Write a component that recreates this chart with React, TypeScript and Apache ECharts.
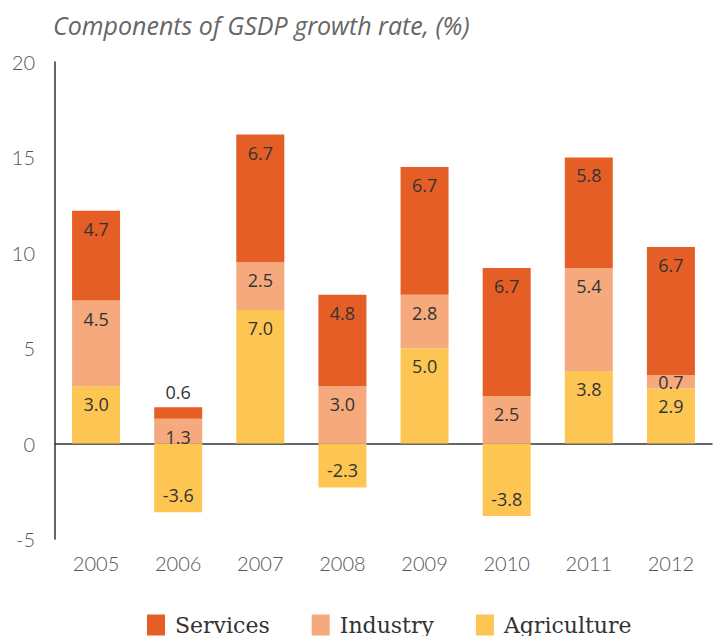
import React, { useEffect, useRef } from "react";
import * as echarts from "echarts";

const years = ["2005", "2006", "2007", "2008", "2009", "2010", "2011", "2012"];
const agriculture = [3.0, -3.6, 7.0, -2.3, 5.0, -3.8, 3.8, 2.9];
const industry = [4.5, 1.3, 2.5, 3.0, 2.8, 2.5, 5.4, 0.7];
const services = [4.7, 0.6, 6.7, 4.8, 6.7, 6.7, 5.8, 6.7];
const yTicks = { min: -5, max: 20, interval: 5 };
const title = "Components of GSDP growth rate, (%)";

const COLORS = { services: "#E55E26", industry: "#F5A97D", agriculture: "#FDC653" };

function items(values: number[], isTop: boolean) {
  return values.map((v) => {
    let label: any;
    if (v < 0) label = { position: "insideBottom", distance: 8 };
    else if (Math.abs(v) < 1 && isTop) label = { position: "top", distance: 6 };
    else if (Math.abs(v) < 1) label = { position: "inside" };
    else label = { position: "insideTop", distance: 9 };
    return { value: v, label };
  });
}

export default function App() {
  const ref = useRef<HTMLDivElement>(null);
  useEffect(() => {
    if (!ref.current) return;
    const chart = echarts.init(ref.current, undefined, { renderer: "svg" });
    const labelStyle = {
      show: true,
      fontFamily: "Open Sans",
      fontSize: 18,
      color: "#333",
      formatter: (p: any) => Number(p.value).toFixed(1),
    };
    const mk = (name: string, data: number[], color: string, isTop: boolean) => ({
      name,
      type: "bar",
      stack: "total",
      barWidth: 48,
      xAxisIndex: 0,
      itemStyle: { color },
      label: labelStyle,
      data: items(data, isTop),
    });
    chart.setOption({
      animation: false,
      backgroundColor: "#fff",
      title: {
        text: title,
        left: 48,
        top: 7,
        textStyle: {
          fontFamily: "Open Sans",
          fontStyle: "italic",
          fontWeight: "normal",
          fontSize: 25,
          color: "#666",
        },
      },
      legend: {
        data: ["Services", "Industry", "Agriculture"],
        left: 142,
        top: 609,
        itemWidth: 18,
        itemHeight: 21,
        itemGap: 42,
        icon: "rect",
        textStyle: {
          fontFamily: "DejaVu Serif",
          fontSize: 22,
          color: "#333",
          padding: [0, 0, 0, 5],
        },
      },
      grid: { left: 55, right: 6, top: 62, height: 477 },
      xAxis: [
        {
          type: "category",
          data: years,
          position: "top",
          axisLine: { show: true, onZero: true, lineStyle: { color: "#333", width: 1.5 } },
          axisTick: { show: false },
          axisLabel: { show: false },
          splitLine: { show: false },
        },
        {
          type: "category",
          data: years,
          position: "bottom",
          axisLine: { show: false, onZero: false },
          axisTick: { show: false },
          axisLabel: {
            margin: 14,
            fontFamily: "Lato",
            fontWeight: 300,
            fontSize: 20,
            color: "#555",
          },
          splitLine: { show: false },
        },
      ],
      yAxis: {
        type: "value",
        min: yTicks.min,
        max: yTicks.max,
        interval: yTicks.interval,
        axisLine: { show: true, lineStyle: { color: "#333", width: 1.5 } },
        axisTick: { show: false },
        splitLine: { show: false },
        axisLabel: {
          margin: 20,
          fontFamily: "Lato",
          fontWeight: 300,
          fontSize: 20,
          color: "#555",
        },
      },
      series: [
        mk("Agriculture", agriculture, COLORS.agriculture, false),
        mk("Industry", industry, COLORS.industry, false),
        mk("Services", services, COLORS.services, true),
      ],
    });
    return () => chart.dispose();
  }, []);
  return <div ref={ref} style={{ width: 718, height: 636, position: "absolute", left: 0, top: 0 }} />;
}
